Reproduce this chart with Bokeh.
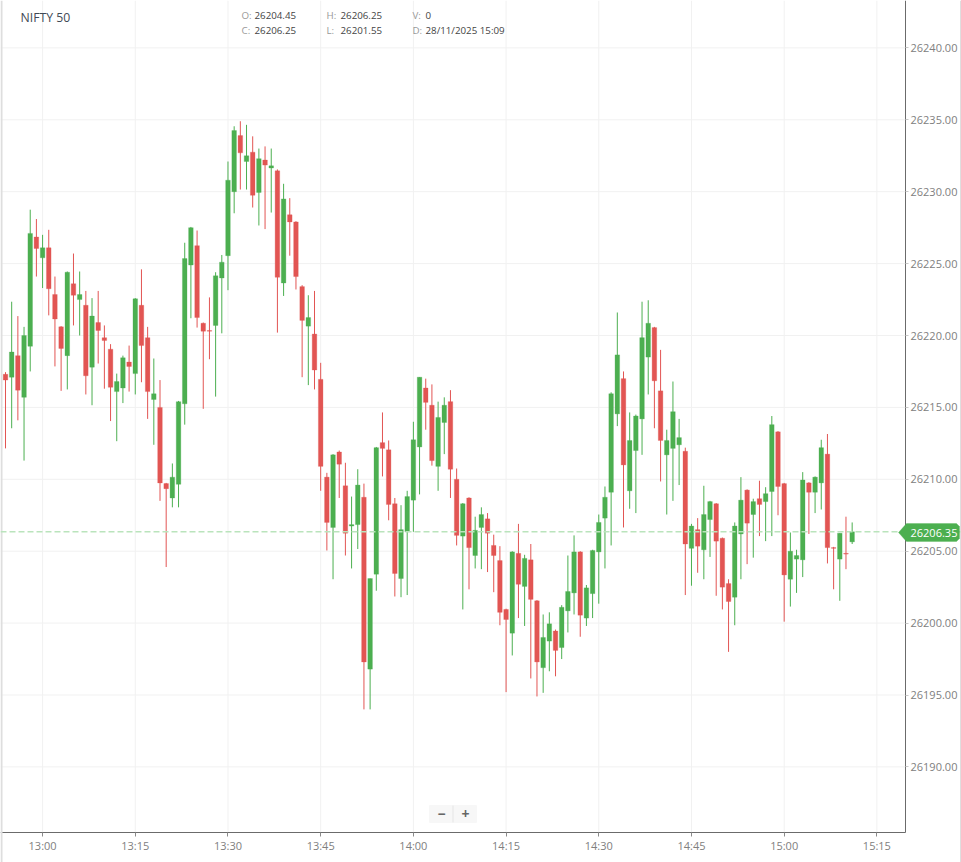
from bokeh.plotting import figure
from bokeh.embed import file_html
from bokeh.resources import INLINE
from bokeh.models import (ColumnDataSource, FixedTicker, Range1d, Span, Label,
                          PolyAnnotation, BoxAnnotation)

symbol = "NIFTY 50"
start_minute = 12 * 60 + 54   # first candle at 12:54, one candle per minute

opens = [
 26217.30,26217.10,26218.60,26215.70,26219.25,26226.85,26225.40,26226.10,26222.85,26220.60,
 26218.60,26223.60,26222.50,26222.10,26217.80,26220.90,26219.85,26219.05,26216.10,26216.35,
 26218.15,26217.35,26222.10,26219.85,26215.55,26215.00,26209.70,26208.70,26209.65,26215.25,
 26224.90,26226.25,26220.85,26220.35,26220.70,26224.00,26225.55,26230.00,26233.90,26232.10,
 26232.75,26229.95,26232.20,26231.65,26231.45,26223.65,26228.40,26227.90,26223.40,26220.65,
 26220.10,26216.95,26210.15,26206.65,26211.90,26209.55,26206.75,26206.85,26208.75,26196.80,
 26203.40,26212.55,26212.05,26208.30,26203.10,26206.35,26208.55,26212.25,26216.35,26215.15,
 26210.90,26213.95,26215.40,26210.00,26206.05,26208.70,26204.70,26206.65,26207.25,26205.40,
 26204.35,26200.95,26199.30,26204.85,26202.55,26204.40,26201.55,26196.90,26198.75,26199.45,
 26198.30,26200.85,26202.10,26204.95,26200.35,26202.05,26204.95,26207.30,26209.10,26214.55,
 26217.00,26209.20,26212.00,26214.20,26218.50,26220.55,26216.15,26211.70,26212.15,26212.40,
 26211.95,26205.20,26206.50,26205.10,26207.20,26208.30,26205.90,26202.75,26201.80,26206.20,
 26209.25,26207.55,26208.65,26208.45,26209.15,26213.30,26209.70,26203.05,26204.45,26204.40,
 26209.75,26209.10,26209.75,26211.75,26205.25,26204.45,26204.85,26205.65]

highs = [
 26217.45,26222.35,26221.35,26220.60,26228.75,26228.10,26227.00,26227.35,26224.10,26220.65,
 26224.45,26225.70,26224.45,26223.10,26222.60,26223.10,26220.70,26219.40,26217.35,26218.60,
 26219.30,26222.60,26224.60,26220.60,26218.40,26216.90,26209.75,26211.10,26215.45,26226.45,
 26227.55,26227.30,26220.90,26222.65,26224.40,26225.60,26232.10,26234.55,26234.90,26234.65,
 26233.85,26233.00,26233.15,26233.00,26231.55,26230.55,26229.55,26227.95,26223.50,26222.80,
 26223.10,26218.10,26210.45,26211.75,26212.00,26211.15,26208.80,26210.70,26209.70,26203.10,
 26212.25,26214.65,26212.70,26208.70,26208.20,26209.20,26214.00,26217.10,26217.00,26216.60,
 26215.40,26215.70,26216.20,26210.75,26208.35,26208.75,26207.40,26208.05,26207.65,26206.15,
 26205.35,26201.00,26205.00,26206.90,26204.75,26205.50,26201.60,26200.60,26200.75,26199.55,
 26201.25,26204.70,26206.10,26205.00,26202.65,26205.10,26207.55,26209.50,26216.05,26221.60,
 26217.50,26214.65,26214.50,26222.35,26222.45,26220.60,26219.00,26213.45,26216.80,26214.20,
 26212.20,26206.90,26207.30,26209.55,26208.50,26208.35,26205.95,26203.05,26207.00,26210.15,
 26209.30,26208.65,26209.90,26209.45,26214.40,26213.35,26209.75,26206.30,26205.10,26210.50,
 26209.80,26210.20,26212.75,26213.15,26205.30,26206.25,26207.40,26207.00]

lows = [
 26212.15,26213.55,26214.10,26211.30,26217.50,26224.10,26223.30,26221.40,26217.85,26216.15,
 26216.25,26220.70,26220.00,26215.90,26215.15,26218.05,26216.30,26214.05,26212.65,26215.30,
 26216.10,26215.90,26216.75,26214.20,26212.40,26208.50,26203.90,26208.05,26208.05,26213.80,
 26221.20,26220.55,26214.90,26218.35,26215.75,26220.15,26223.15,26228.50,26230.15,26230.15,
 26228.90,26227.65,26227.40,26228.55,26220.20,26222.75,26225.55,26223.20,26217.10,26216.55,
 26216.25,26209.20,26205.05,26203.05,26208.70,26204.70,26203.80,26205.15,26194.00,26194.00,
 26202.25,26210.20,26207.15,26201.85,26201.80,26201.95,26206.35,26208.95,26213.45,26210.95,
 26209.20,26211.75,26208.70,26205.40,26200.95,26202.35,26203.80,26203.75,26203.55,26202.15,
 26199.85,26195.20,26197.75,26200.35,26199.80,26196.15,26194.90,26195.15,26196.65,26196.30,
 26197.50,26199.35,26200.60,26199.05,26199.80,26200.35,26201.35,26203.80,26205.40,26213.70,
 26206.65,26207.95,26207.65,26211.70,26215.90,26213.55,26209.85,26207.55,26208.50,26209.60,
 26201.95,26202.60,26203.50,26203.05,26204.60,26201.90,26200.95,26198.00,26199.85,26203.05,
 26204.10,26204.55,26206.05,26205.70,26206.05,26207.50,26200.10,26201.15,26202.10,26203.20,
 26206.20,26207.65,26207.90,26204.15,26202.35,26201.55,26203.75,26205.50]

closes = [
 26216.90,26218.85,26216.20,26220.00,26227.10,26226.05,26226.10,26223.25,26221.15,26219.10,
 26224.40,26222.80,26222.85,26217.20,26221.35,26220.35,26219.65,26216.40,26216.80,26218.45,
 26217.85,26222.55,26219.30,26216.10,26215.95,26209.75,26209.35,26210.15,26215.40,26225.35,
 26227.50,26221.25,26220.30,26220.30,26224.15,26225.10,26230.80,26234.25,26232.70,26232.50,
 26229.75,26232.30,26231.85,26231.80,26224.05,26229.50,26227.90,26224.10,26221.05,26221.25,
 26217.60,26210.90,26207.00,26211.70,26211.05,26206.25,26206.85,26209.60,26197.30,26203.10,
 26212.20,26212.15,26208.25,26203.45,26206.50,26208.80,26212.75,26217.10,26215.35,26211.30,
 26214.30,26215.15,26210.70,26206.10,26208.30,26205.25,26206.45,26207.55,26206.25,26204.70,
 26200.75,26200.25,26204.95,26202.70,26204.50,26201.65,26197.30,26199.00,26199.95,26198.10,
 26201.10,26202.20,26204.95,26200.55,26202.45,26205.05,26207.00,26208.75,26215.95,26218.65,
 26211.00,26212.70,26214.40,26219.85,26220.85,26216.85,26212.70,26212.70,26214.70,26212.90,
 26205.50,26206.75,26205.35,26207.55,26208.45,26205.70,26202.50,26201.50,26206.75,26208.55,
 26206.95,26208.45,26208.25,26209.00,26213.80,26209.50,26203.35,26205.00,26204.70,26209.95,
 26209.10,26210.15,26212.20,26205.25,26205.20,26206.25,26204.80,26206.35]

y_tick_values = [26190, 26195, 26200, 26205, 26210, 26215, 26220, 26225, 26230, 26235, 26240]
x_tick_labels = ["13:00", "13:15", "13:30", "13:45", "14:00", "14:15", "14:30", "14:45", "15:00", "15:15"]
last_price = 26206.35
ohlc_header = [("O:", "26204.45", "C:", "26206.25"),
               ("H:", "26206.25", "L:", "26201.55"),
               ("V:", "0", "D:", "28/11/2025 15:09")]

UP, DOWN = "#4caf50", "#e25553"
FONT = "Open Sans"
W, H = 961, 862
PX_PER_MIN = 6.18
PX_PER_UNIT = 14.38

x_tick_minutes = [int(t[:2]) * 60 + int(t[3:]) for t in x_tick_labels]
minutes = [start_minute + i for i in range(len(opens))]
colors = [UP if c >= o else DOWN for o, c in zip(opens, closes)]
src = ColumnDataSource(dict(t=minutes, o=opens, h=highs, l=lows, c=closes, col=colors,
                            top=[max(o, c) for o, c in zip(opens, closes)],
                            bot=[min(o, c) for o, c in zip(opens, closes)]))

# The frame fills the whole page so that the price tag can sit over the axis area.
x_left = start_minute - 5 / PX_PER_MIN
x_axis_pos = start_minute + 900 / PX_PER_MIN      # vertical axis line, page x = 905
y_top = 26235 + 119.3 / PX_PER_UNIT
y_axis_pos = 26235 - (832 - 119.3) / PX_PER_UNIT  # horizontal axis line, page y = 832
p = figure(width=W, height=H, output_backend="svg", toolbar_location=None,
           x_axis_location="below", y_axis_location="right",
           x_range=Range1d(x_left, start_minute + 956 / PX_PER_MIN),
           y_range=Range1d(26235 - (H - 119.3) / PX_PER_UNIT, y_top),
           min_border_left=0, min_border_top=0, min_border_right=0, min_border_bottom=0,
           background_fill_color="white", border_fill_color="white")
p.outline_line_color = None
p.grid.visible = False

p.xaxis.ticker = FixedTicker(ticks=x_tick_minutes)
p.xaxis.major_label_overrides = dict(zip(x_tick_minutes, x_tick_labels))
p.yaxis.ticker = FixedTicker(ticks=y_tick_values)
p.yaxis.major_label_overrides = {v: f"{v:.2f}" for v in y_tick_values}
p.xaxis.fixed_location = y_axis_pos
p.yaxis.fixed_location = x_axis_pos
p.xaxis.bounds = (x_left, x_axis_pos)
p.yaxis.bounds = (y_axis_pos, y_top)
for ax in (p.xaxis[0], p.yaxis[0]):
    ax.axis_line_color = "#6b6b6b"
    ax.axis_line_width = 1
    ax.major_tick_in = 0
    ax.minor_tick_line_color = None
    ax.major_label_text_font = FONT
    ax.major_label_text_font_size = "11px"
    ax.major_label_text_color = "#808080"
p.xaxis.major_tick_line_color = "#8a8a8a"
p.yaxis.major_tick_line_color = "#c8c8c8"
p.xaxis.major_tick_out = 4
p.yaxis.major_tick_out = 3
p.xaxis.major_label_standoff = 1
p.yaxis.major_label_standoff = 2

# grid lines stop at the axis lines
GRID = "#f1f1f1"
p.segment(x0=x_tick_minutes, x1=x_tick_minutes, y0=[y_axis_pos] * len(x_tick_minutes),
          y1=[y_top] * len(x_tick_minutes), line_color=GRID, line_width=1)
p.segment(x0=[x_left] * len(y_tick_values), x1=[x_axis_pos] * len(y_tick_values),
          y0=y_tick_values, y1=y_tick_values, line_color=GRID, line_width=1)

# thin grey bands at the page edges
for left, right in ((0, 2), (959.5, 961)):
    p.add_layout(BoxAnnotation(left=left, right=right, top=H, bottom=0,
                               left_units="screen", right_units="screen", top_units="screen", bottom_units="screen",
                               fill_color="#dedede", fill_alpha=1, line_color=None))
p.add_layout(Span(location=last_price, dimension="width", line_color="#bae4bc",
                  line_width=1.5, line_dash=[6, 3]))

p.segment(x0="t", y0="l", x1="t", y1="h", source=src, line_color="col", line_width=1)
p.vbar(x="t", bottom="bot", top="top", width=0.74, source=src, fill_color="col", line_color="col",
       line_width=0.3)

def label(x, y, text, size="9.75px", color="#444444", align="left", style="normal"):
    p.add_layout(Label(x=x, y=H - y, x_units="screen", y_units="screen", text=text,
                       text_font=FONT, text_font_size=size, text_color=color,
                       text_align=align, text_baseline="middle", text_font_style=style))

label(20, 17, symbol, size="12.25px", color="#3f4a55")
for (k1, v1, k2, v2), xk, xv in zip(ohlc_header, (241, 326, 412), (254, 340, 425)):
    label(xk, 15, k1, color="#999999")
    label(xv, 15, v1)
    label(xk, 29.5, k2, color="#999999")
    label(xv, 29.5, v2)

# price tag
p.add_layout(PolyAnnotation(xs=[898, 906, 956, 959, 959, 956, 906],
                            ys=[H - 532, H - 523, H - 523, H - 526, H - 538, H - 541, H - 541],
                            xs_units="screen", ys_units="screen",
                            fill_color=UP, fill_alpha=1, line_color=UP))
label(910, 532, f"{last_price:.2f}", size="11px", color="white")

# zoom buttons
for left, right, fill, line in ((429, 476, "#f7f7f7", "#eeeeee"), (452, 453, "#e6e6e6", None)):
    p.add_layout(BoxAnnotation(left=left, right=right, top=H - 805, bottom=H - 822,
                               left_units="screen", right_units="screen", top_units="screen", bottom_units="screen",
                               fill_color=fill, fill_alpha=1, line_color=line))
label(441, 813, "\u2212", size="14px", color="#666666", align="center", style="bold")
label(465, 813, "+", size="14px", color="#666666", align="center", style="bold")

open("out.html", "w").write(file_html(p, INLINE))
